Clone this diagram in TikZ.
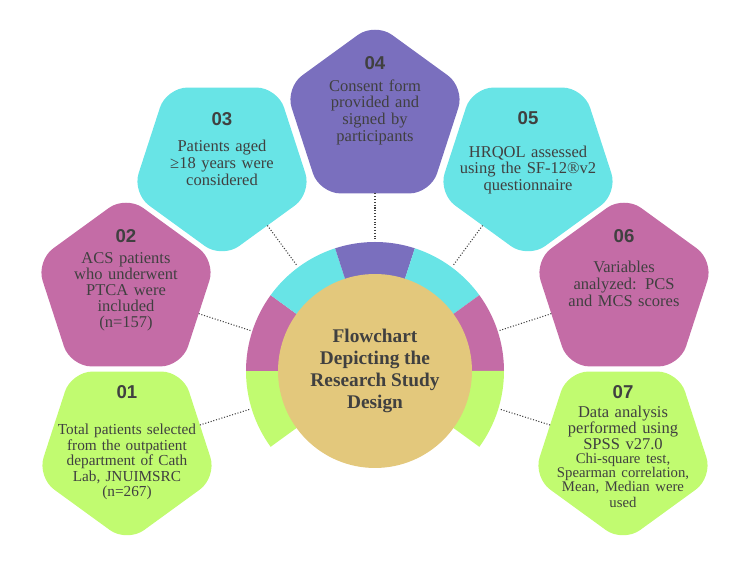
\documentclass[tikz,border=0pt]{standalone}
\usepackage{fontspec}
\setmainfont{Liberation Serif}
\newfontfamily\numerofont{Liberation Sans}
\definecolor{SuperficieVerde}{RGB}{193,251,112}
\definecolor{SuperficieMagenta}{RGB}{196,108,166}
\definecolor{SuperficieCian}{RGB}{104,228,230}
\definecolor{SuperficieMorada}{RGB}{122,111,190}
\definecolor{SuperficieCentro}{RGB}{227,200,124}
\definecolor{TextoOscuro}{RGB}{64,64,64}
\usetikzlibrary{calc, shapes.geometric}
\tikzset{
    pentagono/.style={
        regular polygon, regular polygon sides=5, minimum size=3.78cm,
        inner sep=0pt, outer sep=0pt, rounded corners=0.42cm
    },
    pentagono abajo/.style={pentagono, shape border rotate=180},
    numero/.style={
        font=\numerofont\bfseries\fontsize{10.6}{12}\selectfont,
        text=TextoOscuro, inner sep=0pt
    },
    texto/.style={
        align=center, text width=3.3cm, inner sep=0pt, text=TextoOscuro,
        font=\fontsize{9.4}{9.5}\selectfont
    },
    conector/.style={densely dotted, line width=0.6pt, draw=TextoOscuro},
}

\begin{document}
\begin{tikzpicture}[x=0.02cm, y=0.02cm]

\useasboundingbox (-375,-192) rectangle (375,371);

\coordinate (O) at (0, 0);

% Colorear el anillo
\fill[SuperficieVerde]   (O) -- (180:129) arc[start angle=180, end angle=216, radius=129] -- cycle;
\fill[SuperficieMagenta] (O) -- (144:129) arc[start angle=144, end angle=180, radius=129] -- cycle;
\fill[SuperficieCian]    (O) -- (108:129) arc[start angle=108, end angle=144, radius=129] -- cycle;
\fill[SuperficieMorada]  (O) -- (72:129) arc[start angle=72, end angle=108, radius=129] -- cycle;
\fill[SuperficieCian]    (O) -- (36:129) arc[start angle=36, end angle=72, radius=129] -- cycle;
\fill[SuperficieMagenta] (O) -- (0:129) arc[start angle=0, end angle=36, radius=129] -- cycle;
\fill[SuperficieVerde]   (O) -- (-36:129) arc[start angle=-36, end angle=0, radius=129] -- cycle;

% Circulo central, encima del anillo
\node[circle, fill=SuperficieCentro, minimum size=3.88cm, inner sep=0pt,
      align=center, text=TextoOscuro,
      font=\bfseries\fontsize{11}{12.5}\selectfont] (centro) at (O)
    {Flowchart\\ Depicting the\\ Research Study\\ Design};

% Pentagonos
\node[pentagono abajo, fill=SuperficieVerde]   (p1) at (-248, -77) {};
\node[pentagono,       fill=SuperficieMagenta] (p2) at (-249, 81) {};
\node[pentagono abajo, fill=SuperficieCian]    (p3) at (-153, 207) {};
\node[pentagono,       fill=SuperficieMorada]  (p4) at (0, 254) {};
\node[pentagono abajo, fill=SuperficieCian]    (p5) at (153, 207) {};
\node[pentagono,       fill=SuperficieMagenta] (p6) at (249, 81) {};
\node[pentagono abajo, fill=SuperficieVerde]   (p7) at (248, -77) {};

% Puntos sobre el borde del anillo
\coordinate (r1) at (197:131);
\coordinate (r2) at (162:131);
\coordinate (r3) at (126.5:131);
\coordinate (r4) at (90:131);
\coordinate (r5) at (53.5:131);
\coordinate (r6) at (18:131);
\coordinate (r7) at (-17:131);

\draw[conector] (p1) -- (r1);
\draw[conector] (p2) -- (r2);
\draw[conector] (p3) -- (r3);
\draw[conector] (p4) -- (r4);
\draw[conector] (p5) -- (r5);
\draw[conector] (p6) -- (r6);
\draw[conector] (p7) -- (r7);

% Numeros y textos de cada paso
\node[numero] (n1) at ($(p1)+(0,56)$) {01};
\node[texto, font=\fontsize{8.7}{8.8}\selectfont] (t1) at ($(p1)+(0,-14)$)
    {Total patients selected\\ from the outpatient\\ department of Cath\\ Lab, JNUIMSRC\\ (n=267)};

\node[numero] (n2) at ($(p2)+(0,54)$) {02};
\node[texto, font=\fontsize{9.4}{9.1}\selectfont] (t2) at ($(p2)+(0,-2)$)
    {ACS patients\\ who underwent\\ PTCA were\\ included\\ (n=157)};

\node[numero] (n3) at ($(p3)+(0,45)$) {03};
\node[texto] (t3) at ($(p3)+(0,1)$)
    {Patients aged\\ ≥18 years were\\ considered};

\node[numero] (n4) at ($(p4)+(0,54)$) {04};
\node[texto] (t4) at ($(p4)+(0,5)$)
    {Consent form\\ provided and\\ signed by\\ participants};

\node[numero] (n5) at ($(p5)+(0,46)$) {05};
\node[texto] (t5) at ($(p5)+(0,-6)$)
    {HRQOL assessed\\ using the SF-12®v2\\ questionnaire};

\node[numero] (n6) at ($(p6)+(0,54)$) {06};
\node[texto] (t6) at ($(p6)+(0,6)$)
    {Variables\\ analyzed: PCS\\ and MCS scores};

\node[numero] (n7) at ($(p7)+(0,56)$) {07};
\node[texto, font=\fontsize{9.4}{9.0}\selectfont] (t7) at ($(p7)+(0,-9)$)
    {Data analysis\\ performed using\\ SPSS v27.0\par
     \fontsize{8.4}{8.1}\selectfont Chi-square test,\\ Spearman correlation,\\ Mean, Median were\\ used};

\end{tikzpicture}
\end{document}
